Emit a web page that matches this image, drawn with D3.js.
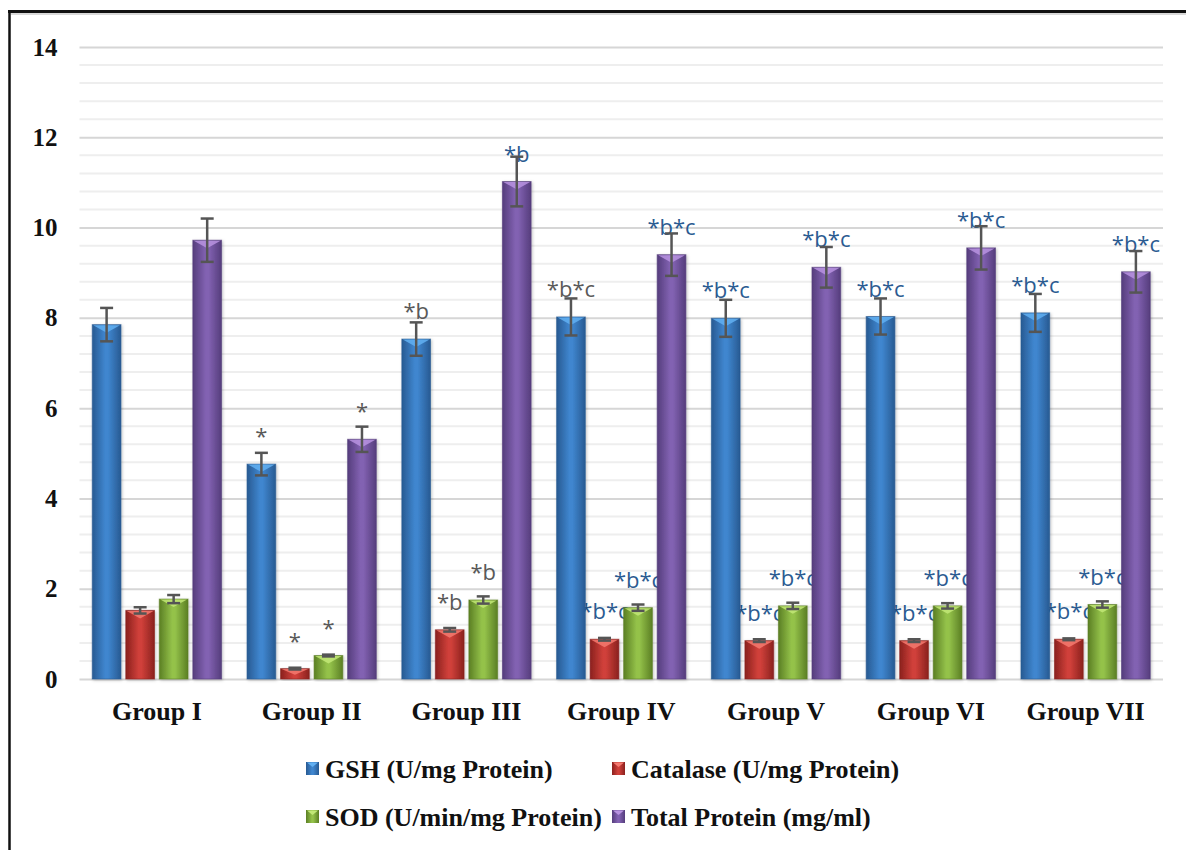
<!DOCTYPE html>
<html>
<head>
<meta charset="utf-8">
<script src="https://cdn.jsdelivr.net/npm/d3@7"></script>
<style>
  html, body { margin: 0; padding: 0; background: #fff; }
  svg { display: block; }
</style>
</head>
<body>
<svg id="chart" width="1186" height="850"></svg>
<script>
// Groups on the x axis
const groups = ["Group I", "Group II", "Group III", "Group IV", "Group V", "Group VI", "Group VII"];

// Series names (legend text)
const seriesNames = ["GSH (U/mg Protein)", "Catalase (U/mg Protein)", "SOD (U/min/mg Protein)", "Total Protein (mg/ml)"];

// Mean values per series, one per group
const gshValues      = [7.85, 4.76, 7.53, 8.02, 7.99, 8.03, 8.11];
const catalaseValues = [1.52, 0.23, 1.09, 0.88, 0.85, 0.85, 0.88];
const sodValues      = [1.77, 0.52, 1.75, 1.58, 1.62, 1.62, 1.65];
const proteinValues  = [9.72, 5.31, 11.02, 9.40, 9.12, 9.55, 9.02];

// Standard errors
const gshErrors      = [0.37, 0.25, 0.37, 0.41, 0.41, 0.40, 0.42];
const catalaseErrors = [0.07, 0.02, 0.04, 0.03, 0.03, 0.03, 0.02];
const sodErrors      = [0.09, 0.02, 0.08, 0.07, 0.07, 0.06, 0.07];
const proteinErrors  = [0.48, 0.28, 0.55, 0.47, 0.45, 0.48, 0.46];

// Significance marks above the bars
const gshMarks      = ["", "*", "*b", "*b*c", "*b*c", "*b*c", "*b*c"];
const catalaseMarks = ["", "*", "*b", "*b*c", "*b*c", "*b*c", "*b*c"];
const sodMarks      = ["", "*", "*b", "*b*c", "*b*c", "*b*c", "*b*c"];
const proteinMarks  = ["", "*", "*b", "*b*c", "*b*c", "*b*c", "*b*c"];

// Mark colour: "g" = grey, "b" = blue
const gshMarkTone      = ["g", "g", "g", "g", "b", "b", "b"];
const catalaseMarkTone = ["g", "g", "g", "b", "b", "b", "b"];
const sodMarkTone      = ["g", "g", "g", "b", "b", "b", "b"];
const proteinMarkTone  = ["g", "g", "b", "b", "b", "b", "b"];

// Y axis ticks
const yTicks = [0, 2, 4, 6, 8, 10, 12, 14];

const seriesValues = [gshValues, catalaseValues, sodValues, proteinValues];
const seriesErrors = [gshErrors, catalaseErrors, sodErrors, proteinErrors];
const seriesMarks  = [gshMarks, catalaseMarks, sodMarks, proteinMarks];
const seriesTones  = [gshMarkTone, catalaseMarkTone, sodMarkTone, proteinMarkTone];

// Bar colours: edge, centre, bevel highlight
const palette = [
  { edge: "#285a92", mid: "#3f86cf", hi: "#62b0f2" },
  { edge: "#8a211e", mid: "#d0403a", hi: "#f47a70" },
  { edge: "#5b7f24", mid: "#94c24a", hi: "#c2e877" },
  { edge: "#553d7c", mid: "#8262b2", hi: "#b893e0" }
];
const toneColor = { g: "#595959", b: "#2b5b91" };

const serifFont = "'Liberation Serif', 'Times New Roman', serif";

const svg = d3.select("#chart");
const defs = svg.append("defs");

palette.forEach((p, i) => {
  const g = defs.append("linearGradient").attr("id", "grad" + i)
    .attr("x1", "0%").attr("x2", "100%").attr("y1", "0%").attr("y2", "0%");
  g.append("stop").attr("offset", "0%").attr("stop-color", p.edge);
  g.append("stop").attr("offset", "45%").attr("stop-color", p.mid);
  g.append("stop").attr("offset", "55%").attr("stop-color", p.mid);
  g.append("stop").attr("offset", "100%").attr("stop-color", p.edge);
});
const shadow = defs.append("filter").attr("id", "shadow")
  .attr("x", "-30%").attr("y", "-10%").attr("width", "160%").attr("height", "120%");
shadow.append("feDropShadow").attr("dx", 1).attr("dy", 1).attr("stdDeviation", 1.5)
  .attr("flood-color", "#000").attr("flood-opacity", 0.25);

// Outer frame
svg.append("line").attr("x1", 9.5).attr("x2", 9.5).attr("y1", 10).attr("y2", 850)
  .attr("stroke", "#111").attr("stroke-width", 2.5);
svg.append("line").attr("x1", 8).attr("x2", 1186).attr("y1", 11.5).attr("y2", 11.5)
  .attr("stroke", "#111").attr("stroke-width", 3);
svg.append("line").attr("x1", 11).attr("x2", 1186).attr("y1", 14).attr("y2", 14)
  .attr("stroke", "#ccc").attr("stroke-width", 1.5);

const plotLeft = 79.5, plotRight = 1163, plotTop = 47, plotBottom = 679;

const y = d3.scaleLinear().domain([0, 14]).range([plotBottom, plotTop]);
const x0 = d3.scaleBand().domain(groups).range([plotLeft, plotRight]).paddingInner(0).paddingOuter(0);
const x1 = d3.scaleBand().domain(d3.range(4)).range([0, x0.bandwidth()])
  .paddingInner(0.143).paddingOuter(0.38);

// Minor grid lines every 0.4
const minor = d3.range(0.4, 14, 0.4).filter(v => Math.abs(v / 2 - Math.round(v / 2)) > 1e-6);
svg.append("g").selectAll("line").data(minor).join("line")
  .attr("x1", plotLeft).attr("x2", plotRight)
  .attr("y1", d => y(d)).attr("y2", d => y(d))
  .attr("stroke", "#eeeeee").attr("stroke-width", 2);

// Major grid lines with tick labels
const yAxis = svg.append("g").attr("transform", `translate(${plotLeft},0)`)
  .call(d3.axisLeft(y).tickValues(yTicks).tickSize(-(plotRight - plotLeft)).tickPadding(22));
yAxis.select(".domain").remove();
yAxis.selectAll(".tick line").attr("stroke", "#d6d6d6").attr("stroke-width", 2);
yAxis.selectAll(".tick text")
  .attr("font-family", serifFont)
  .attr("font-weight", "bold").attr("font-size", 25).attr("fill", "#111");

// X axis group labels
svg.append("g").selectAll("text").data(groups).join("text")
  .attr("x", d => x0(d) + x0.bandwidth() / 2)
  .attr("y", 720)
  .attr("text-anchor", "middle")
  .attr("font-family", serifFont)
  .attr("font-weight", "bold").attr("font-size", 26).attr("fill", "#111")
  .text(d => d);

// Flattened records for bars
const records = [];
seriesValues.forEach((vals, s) => {
  vals.forEach((v, gi) => {
    records.push({
      s, group: groups[gi], value: v, err: seriesErrors[s][gi],
      mark: seriesMarks[s][gi], tone: seriesTones[s][gi]
    });
  });
});
const bx = d => x0(d.group) + x1(d.s);
const bw = x1.bandwidth();

// Significance marks (drawn beneath the bars so neighbours overlap them)
svg.append("g").selectAll("text").data(records.filter(d => d.mark)).join("text")
  .attr("x", d => bx(d) + bw / 2)
  .attr("y", d => y(d.value) - 20)
  .attr("text-anchor", "middle")
  .attr("font-family", "'Open Sans', 'Noto Sans', sans-serif")
  .attr("font-size", 22)
  .attr("fill", d => toneColor[d.tone])
  .text(d => d.mark);

// Bars
const barG = svg.append("g").selectAll("g").data(records).join("g");
barG.append("rect")
  .attr("x", bx).attr("width", bw)
  .attr("y", d => y(d.value)).attr("height", d => y(0) - y(d.value))
  .attr("fill", d => `url(#grad${d.s})`)
  .attr("stroke", d => palette[d.s].edge).attr("stroke-opacity", 0.6).attr("stroke-width", 1)
  .attr("filter", "url(#shadow)");
// Bevel highlight at the top of each bar
barG.append("path")
  .attr("d", d => {
    const x = bx(d), yt = y(d.value);
    const h = Math.min(8, (y(0) - yt) * 0.6);
    return `M${x + 1},${yt + 0.5} L${x + bw - 1},${yt + 0.5} L${x + bw / 2},${yt + h} Z`;
  })
  .attr("fill", d => palette[d.s].hi).attr("opacity", 0.85);

// Error bars
const errG = svg.append("g").attr("stroke", "#555").attr("stroke-width", 2.5).attr("fill", "none");
records.forEach(d => {
  const cx = bx(d) + bw / 2, hi = y(d.value + d.err), lo = y(d.value - d.err);
  errG.append("line").attr("x1", cx).attr("x2", cx).attr("y1", hi).attr("y2", lo);
  errG.append("line").attr("x1", cx - 6.5).attr("x2", cx + 6.5).attr("y1", hi).attr("y2", hi);
  errG.append("line").attr("x1", cx - 6.5).attr("x2", cx + 6.5).attr("y1", lo).attr("y2", lo);
});

// Legend
const legendPos = [[306, 769], [612, 769], [306, 817], [612, 817]];
const legend = svg.append("g").selectAll("g").data(seriesNames).join("g")
  .attr("transform", (d, i) => `translate(${legendPos[i][0]},${legendPos[i][1]})`);
legend.append("rect").attr("x", 0).attr("y", -7).attr("width", 13).attr("height", 13)
  .attr("fill", (d, i) => `url(#grad${i})`);
legend.append("path").attr("d", "M1,-6.5 L12,-6.5 L6.5,-2 Z")
  .attr("fill", (d, i) => palette[i].hi);
legend.append("text").attr("x", 19).attr("y", 9)
  .attr("font-family", serifFont)
  .attr("font-weight", "bold").attr("font-size", 26).attr("fill", "#111")
  .text(d => d);
</script>
</body>
</html>
